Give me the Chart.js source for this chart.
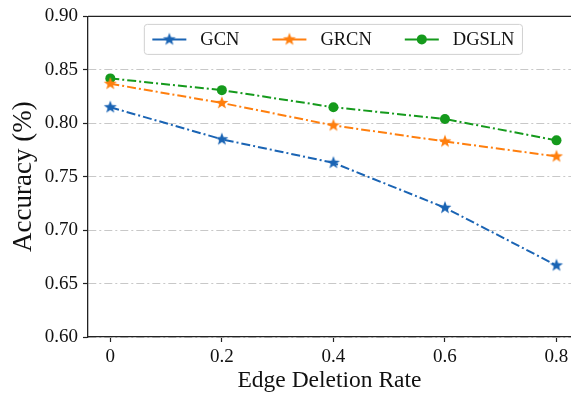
<!DOCTYPE html>
<html>
<head>
<meta charset="utf-8">
<script src="https://cdn.jsdelivr.net/npm/chart.js@4"></script>
<style>
  html, body { margin: 0; padding: 0; background: #fff; }
  #wrap { width: 571px; height: 397px; }
</style>
</head>
<body>
<div id="wrap"><canvas id="myChart" width="571" height="397"></canvas></div>
<script>
const rates = [0, 0.2, 0.4, 0.6, 0.8]
const xTickLabels = ['0', '0.2', '0.4', '0.6', '0.8']
const yTicks = [0.60, 0.65, 0.70, 0.75, 0.80, 0.85, 0.90]
const gcn = [0.815, 0.785, 0.763, 0.721, 0.667]
const grcn = [0.837, 0.819, 0.798, 0.783, 0.769]
const dgsln = [0.842, 0.831, 0.815, 0.804, 0.784]

const blue = '#1a64b4'
const orange = '#ff7f0e'
const green = '#159a1c'
const serif = '"Liberation Serif", "Times New Roman", serif'

// filled star marker, chart.js 'star' is only an asterisk
function starIcon(color, r) {
    const c = document.createElement('canvas')
    const s = Math.ceil(r * 2 + 2)
    c.width = s
    c.height = s
    const ctx = c.getContext('2d')
    ctx.beginPath()
    for (let i = 0; i < 10; i++) {
        const rad = i % 2 === 0 ? r : r * 0.42
        const a = -Math.PI / 2 + i * Math.PI / 5
        const px = s / 2 + rad * Math.cos(a)
        const py = s / 2 + rad * Math.sin(a)
        if (i === 0) ctx.moveTo(px, py)
        else ctx.lineTo(px, py)
    }
    ctx.closePath()
    ctx.fillStyle = color
    ctx.fill()
    return c
}
const blueStar = starIcon(blue, 6.8)
const orangeStar = starIcon(orange, 6.8)

const pairs = arr => rates.map((r, i) => ({x: r, y: arr[i]}))

// legend box inside the plot + top spine
const insideLegend = {
    id: 'insideLegend',
    afterDatasetsDraw(chart) {
        const {ctx, chartArea} = chart
        const xs = chart.scales.x
        ctx.save()
        ctx.strokeStyle = '#222'
        ctx.lineWidth = 1.3
        ctx.beginPath()
        ctx.moveTo(chartArea.left, chartArea.top)
        ctx.lineTo(chartArea.right, chartArea.top)
        ctx.stroke()

        ctx.font = '18.5px ' + serif
        const items = chart.data.datasets
        const handle = 34, pad = 8, textPad = 14, colGap = 33
        const widths = items.map(d => ctx.measureText(d.label).width)
        let total = pad * 2 + colGap * (items.length - 1)
        widths.forEach(w => total += handle + textPad + w)
        const cx = xs.getPixelForValue(0.4)
        const left = cx - total / 2
        const top = chartArea.top + 8
        const h = 30
        ctx.beginPath()
        ctx.roundRect(left, top, total, h, 3)
        ctx.fillStyle = 'rgba(255,255,255,0.85)'
        ctx.fill()
        ctx.strokeStyle = '#d0d0d0'
        ctx.lineWidth = 1
        ctx.stroke()

        let x = left + pad
        const y = top + h / 2
        items.forEach((d, i) => {
            ctx.strokeStyle = d.borderColor
            ctx.lineWidth = 2
            ctx.setLineDash([])
            ctx.beginPath()
            ctx.moveTo(x, y)
            ctx.lineTo(x + handle, y)
            ctx.stroke()
            if (d.pointStyle === 'circle') {
                ctx.beginPath()
                ctx.arc(x + handle / 2, y, d.pointRadius, 0, Math.PI * 2)
                ctx.fillStyle = d.pointBackgroundColor
                ctx.fill()
            } else {
                const img = d.pointStyle
                ctx.drawImage(img, x + handle / 2 - img.width / 2, y - img.height / 2)
            }
            ctx.fillStyle = '#111'
            ctx.textBaseline = 'middle'
            ctx.fillText(d.label, x + handle + textPad, y + 1)
            x += handle + textPad + widths[i] + colGap
        })
        ctx.restore()
    }
}

const show = document.getElementById('myChart').getContext('2d')
const myChart = new Chart(show, {
    type: 'line',
    data: {
        datasets: [{
            label: 'GCN',
            data: pairs(gcn),
            borderColor: blue,
            borderWidth: 2,
            borderDash: [9, 3, 2, 3],
            pointStyle: blueStar,
            pointBackgroundColor: blue,
            fill: false
        }, {
            label: 'GRCN',
            data: pairs(grcn),
            borderColor: orange,
            borderWidth: 2,
            borderDash: [9, 3, 2, 3],
            pointStyle: orangeStar,
            pointBackgroundColor: orange,
            fill: false
        }, {
            label: 'DGSLN',
            data: pairs(dgsln),
            borderColor: green,
            borderWidth: 2,
            borderDash: [9, 3, 2, 3],
            pointStyle: 'circle',
            pointRadius: 5,
            pointBorderWidth: 0,
            pointBackgroundColor: green,
            fill: false
        }]
    },
    options: {
        responsive: false,
        animation: false,
        layout: { autoPadding: false, padding: { top: 13, right: 0, left: 0, bottom: 0 } },
        plugins: {
            legend: { display: false },
            tooltip: { enabled: false }
        },
        scales: {
            x: {
                type: 'linear',
                min: -0.04,
                max: 0.826,
                afterBuildTicks: scale => { scale.ticks = rates.map(v => ({value: v})) },
                afterFit: scale => {
                    scale.height = 60
                    scale.paddingRight = 0
                    scale.paddingLeft = 0
                },
                ticks: {
                    callback: (v, i) => xTickLabels[i],
                    color: '#111',
                    font: { family: serif, size: 19 },
                    padding: 4,
                    maxRotation: 0
                },
                grid: { drawOnChartArea: false, drawTicks: true, tickLength: 5, tickColor: '#222', tickWidth: 1.2 },
                border: { color: '#222', width: 1.3 },
                title: {
                    display: true,
                    text: 'Edge Deletion Rate',
                    color: '#111',
                    font: { family: serif, size: 23.5 },
                    padding: { top: 0, bottom: 2 }
                }
            },
            y: {
                min: 0.6,
                max: 0.9,
                afterBuildTicks: scale => { scale.ticks = yTicks.map(v => ({value: v})) },
                afterFit: scale => { scale.width = 88 },
                ticks: {
                    callback: v => v.toFixed(2),
                    color: '#111',
                    font: { family: serif, size: 19 },
                    padding: 5
                },
                grid: {
                    color: '#c8c8c8',
                    lineWidth: 1,
                    tickLength: 5,
                    tickColor: '#222',
                    tickWidth: 1.2,
                    tickBorderDash: []
                },
                border: { color: '#222', width: 1.3, dash: [8, 3, 2, 3] },
                title: {
                    display: true,
                    text: 'Accuracy (%)',
                    color: '#111',
                    font: { family: serif, size: 27 },
                    padding: { top: 8, bottom: 0 }
                }
            }
        }
    },
    plugins: [insideLegend]
})
</script>
</body>
</html>
